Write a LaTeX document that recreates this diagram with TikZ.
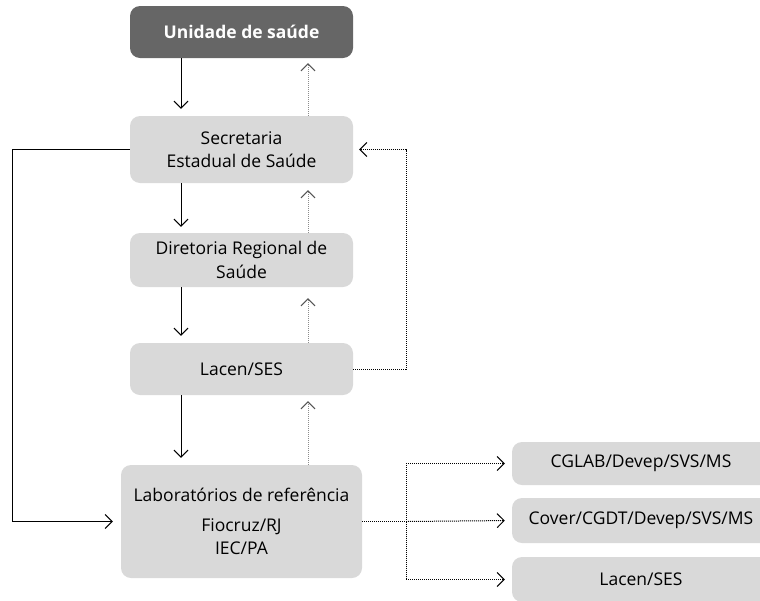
\documentclass[tikz,border=0pt]{standalone}
\usepackage{fontspec}
\setmainfont{Open Sans}
\usetikzlibrary{arrows.meta}
\definecolor{boxgray}{HTML}{D9D9D9}
\definecolor{darkbox}{HTML}{666666}
\definecolor{backarrow}{HTML}{8C8C8C}
\definecolor{backtip}{HTML}{555555}
\begin{document}
\begin{tikzpicture}[x=1pt,y=-1pt,
  box/.style={fill=boxgray, rounded corners=10pt, align=center, inner sep=0pt,
    font=\fontsize{17.5}{23.5}\selectfont},
  headbox/.style={box, fill=darkbox, text=white, font=\fontsize{17.5}{23.5}\selectfont\bfseries},
  tip/.style={-{Straight Barb[length=7pt,width=14pt]}},
  flow/.style={tip, line width=1pt, black},
  back/.style={-{Straight Barb[length=7pt,width=14pt,color=backtip]}, line width=1pt, backarrow, dash pattern=on 1pt off 1pt},
  route/.style={tip, line width=1pt, black, dash pattern=on 1pt off 1pt}]
\useasboundingbox (0,0) rectangle (760,600);
\begin{scope}
\clip (0,0) rectangle (760,600);

% main chain
\node[headbox, minimum width=223pt, minimum height=52pt] (us) at (241.5,32) {Unidade de saúde};
\node[box, minimum width=223pt, minimum height=67pt] (ses) at (241.5,149.5) {Secretaria\\Estadual de Saúde};
\node[box, minimum width=223pt, minimum height=54pt] (drs) at (241.5,260) {Diretoria Regional de\\Saúde};
\node[box, minimum width=223pt, minimum height=52pt] (lacen) at (241.5,369) {Lacen/SES};
\node[box, minimum width=241pt, minimum height=113pt] (lab) at (241.5,521.5)
  {Laboratórios de referência\\[6pt]Fiocruz/RJ\\IEC/PA};

% national level
\node[box, minimum width=258pt, minimum height=43pt] (cglab) at (641,463.5) {CGLAB/Devep/SVS/MS};
\node[box, minimum width=258pt, minimum height=45pt] (cover) at (641,520.5) {Cover/CGDT/Devep/SVS/MS};
\node[box, minimum width=258pt, minimum height=45pt] (lacen2) at (641,579.5) {Lacen/SES};

% columns and junctions
\coordinate (dn) at (181,0);
\coordinate (up) at (308,0);
\coordinate (rx) at (406,0);
\coordinate (lx) at (12,0);

% sample flow down
\draw[flow, shorten >=7pt] (us.south -| dn) -- (ses.north -| dn);
\draw[flow, shorten >=6pt] (ses.south -| dn) -- (drs.north -| dn);
\draw[flow, shorten >=7pt] (drs.south -| dn) -- (lacen.north -| dn);
\draw[flow, shorten >=7pt] (lacen.south -| dn) -- (lab.north -| dn);

% results back up
\draw[back, shorten >=5pt] (ses.north -| up) -- (us.south -| up);
\draw[back, shorten >=7pt] (drs.north -| up) -- (ses.south -| up);
\draw[back, shorten >=11pt] (lacen.north -| up) -- (drs.south -| up);
\draw[back, shorten >=6pt] (lab.north -| up) -- (lacen.south -| up);

% Lacen reports to state secretariat
\draw[route, shorten >=6pt] (lacen.east) -- (lacen.east -| rx) -- (ses.east -| rx) -- (ses.east);

% state secretariat to reference labs
\draw[flow, shorten >=8pt] (ses.west) -- (ses.west -| lx) -- (lab.west -| lx) -- (lab.west);

% reference labs to national level
\coordinate (jn) at (lab.east -| rx);
\draw[line width=1pt, dash pattern=on 1pt off 1pt] (lab.east) -- (jn);
\draw[route, shorten >=7pt] (jn) -- (cglab.west -| rx) -- (cglab.west);
\draw[route, shorten >=7pt] (jn) -- (cover.west);
\draw[route, shorten >=7pt] (jn) -- (lacen2.west -| rx) -- (lacen2.west);
\end{scope}
\end{tikzpicture}
\end{document}
